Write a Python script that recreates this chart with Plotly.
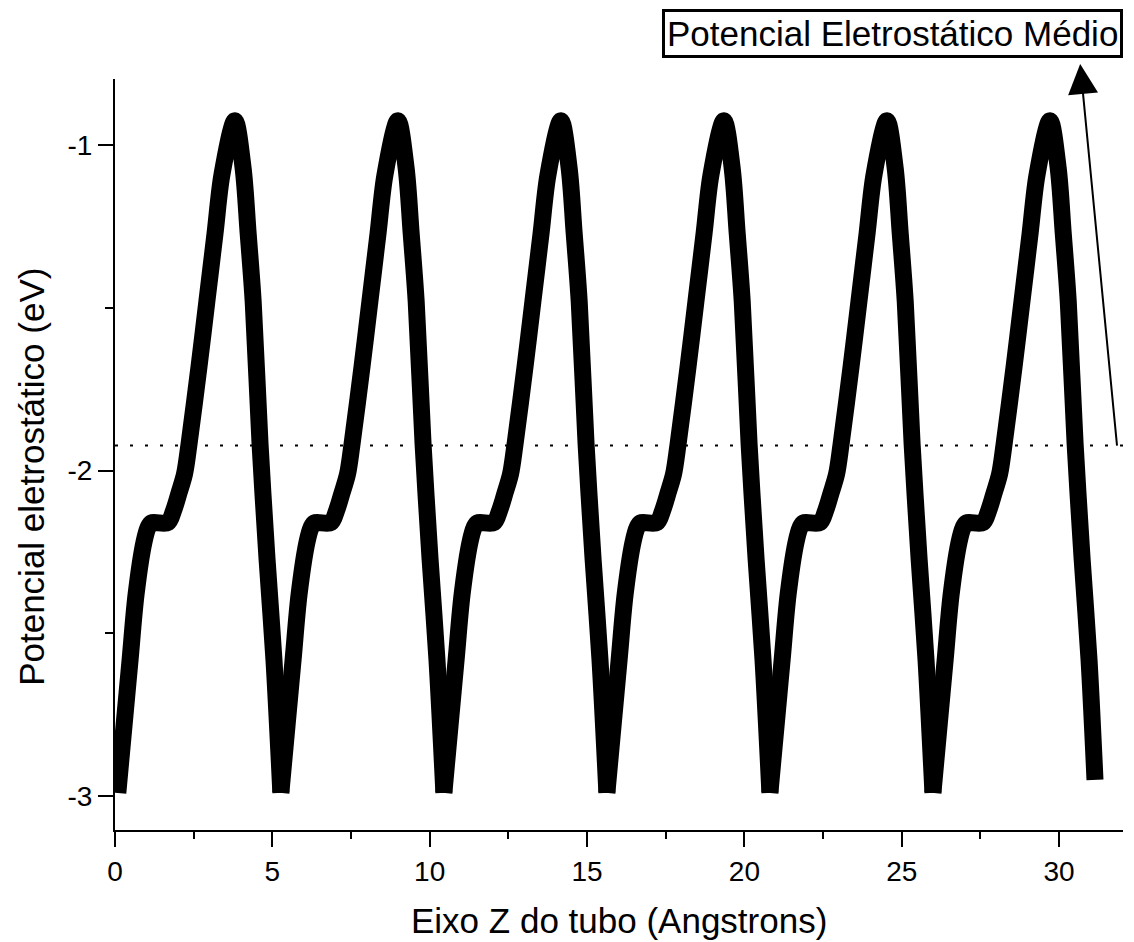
import plotly.graph_objects as go

# ---- data ----
z_angstrom = [
    0.09, 0.29, 0.48, 0.67, 0.92, 1.05, 1.16, 1.68, 1.87, 2.03, 2.21, 2.35, 2.67, 2.92, 3.18, 3.40, 3.81, 4.07, 4.23, 4.39, 4.61, 4.83, 5.05,
    5.27, 5.47, 5.66, 5.85, 6.10, 6.23, 6.34, 6.86, 7.05, 7.21, 7.39, 7.53, 7.85, 8.10, 8.36, 8.58, 8.99, 9.25, 9.41, 9.57, 9.79, 10.01, 10.23,
    10.45, 10.65, 10.84, 11.03, 11.28, 11.41, 11.52, 12.04, 12.23, 12.39, 12.57, 12.71, 13.03, 13.28, 13.54, 13.76, 14.17, 14.43, 14.59, 14.75, 14.97, 15.19, 15.41,
    15.63, 15.83, 16.02, 16.21, 16.46, 16.59, 16.70, 17.22, 17.41, 17.57, 17.75, 17.89, 18.21, 18.46, 18.72, 18.94, 19.35, 19.61, 19.77, 19.93, 20.15, 20.37, 20.59,
    20.81, 21.01, 21.20, 21.39, 21.64, 21.77, 21.88, 22.40, 22.59, 22.75, 22.93, 23.07, 23.39, 23.64, 23.90, 24.12, 24.53, 24.79, 24.95, 25.11, 25.33, 25.55, 25.77,
    25.99, 26.19, 26.38, 26.57, 26.82, 26.95, 27.06, 27.58, 27.77, 27.93, 28.11, 28.25, 28.57, 28.82, 29.08, 29.30, 29.71, 29.97, 30.13, 30.29, 30.51, 30.73, 30.95,
    31.14,
]
potential_ev = [
    -2.99, -2.78, -2.58, -2.38, -2.22, -2.175, -2.16, -2.16, -2.12, -2.07, -2.01, -1.92, -1.68, -1.48, -1.27, -1.09, -0.925, -1.07, -1.27, -1.48, -1.92, -2.27, -2.58,
    -2.99, -2.78, -2.58, -2.38, -2.22, -2.175, -2.16, -2.16, -2.12, -2.07, -2.01, -1.92, -1.68, -1.48, -1.27, -1.09, -0.925, -1.07, -1.27, -1.48, -1.92, -2.27, -2.58,
    -2.99, -2.78, -2.58, -2.38, -2.22, -2.175, -2.16, -2.16, -2.12, -2.07, -2.01, -1.92, -1.68, -1.48, -1.27, -1.09, -0.925, -1.07, -1.27, -1.48, -1.92, -2.27, -2.58,
    -2.99, -2.78, -2.58, -2.38, -2.22, -2.175, -2.16, -2.16, -2.12, -2.07, -2.01, -1.92, -1.68, -1.48, -1.27, -1.09, -0.925, -1.07, -1.27, -1.48, -1.92, -2.27, -2.58,
    -2.99, -2.78, -2.58, -2.38, -2.22, -2.175, -2.16, -2.16, -2.12, -2.07, -2.01, -1.92, -1.68, -1.48, -1.27, -1.09, -0.925, -1.07, -1.27, -1.48, -1.92, -2.27, -2.58,
    -2.99, -2.78, -2.58, -2.38, -2.22, -2.175, -2.16, -2.16, -2.12, -2.07, -2.01, -1.92, -1.68, -1.48, -1.27, -1.09, -0.925, -1.07, -1.27, -1.48, -1.92, -2.27, -2.58,
    -2.95,
]
mean_potential = -1.923
arrow_tail_z = 31.84

x_tickvals = [0, 5, 10, 15, 20, 25, 30]
x_ticktext = ["0", "5", "10", "15", "20", "25", "30"]
y_tickvals = [-1, -2, -3]
y_ticktext = ["-1", "-2", "-3"]

x_title = "Eixo Z do tubo (Angstrons)"
y_title = "Potencial eletrostático (eV)"
box_label = "Potencial Eletrostático Médio"

FONT = "Arial, 'Liberation Sans', sans-serif"

# split the curve at its minima (sharp V bottoms); each min-to-min arch is smoothed on its own
breaks = [0]
for i in range(1, len(potential_ev) - 1):
    a, b, c = potential_ev[i - 1], potential_ev[i], potential_ev[i + 1]
    if b < a and b < c:
        breaks.append(i)
breaks.append(len(potential_ev) - 1)

fig = go.Figure()
for s, e in zip(breaks[:-1], breaks[1:]):
    fig.add_trace(go.Scatter(
        x=z_angstrom[s:e + 1], y=potential_ev[s:e + 1], mode="lines",
        line=dict(color="black", width=17, shape="spline", smoothing=0.9),
        showlegend=False, hoverinfo="skip",
    ))

fig.add_shape(
    type="line", xref="paper", yref="y",
    x0=0, x1=1.009, y0=mean_potential, y1=mean_potential,
    line=dict(color="black", width=2, dash="3px,12px"),
    layer="above",
)

fig.add_annotation(
    x=arrow_tail_z, y=mean_potential, xref="x", yref="y",
    ax=-37, ay=-383, axref="pixel", ayref="pixel",
    text="", showarrow=True, arrowside="start",
    startarrowhead=2, startarrowsize=3, arrowwidth=2, arrowcolor="black",
    startstandoff=0, standoff=0,
)

fig.add_annotation(
    x=0.771, y=1.06, xref="paper", yref="paper",
    xanchor="center", yanchor="middle",
    text=box_label, showarrow=False,
    font=dict(family=FONT, size=35, color="black"),
    bordercolor="black", borderwidth=3, borderpad=2, bgcolor="white",
)

fig.add_annotation(
    x=0.5, y=-0.121, xref="paper", yref="paper",
    xanchor="center", yanchor="middle",
    text=x_title, showarrow=False,
    font=dict(family=FONT, size=35, color="black"),
)
fig.add_annotation(
    x=-0.0835, y=0.47, xref="paper", yref="paper",
    xanchor="center", yanchor="middle", textangle=-90,
    text=y_title, showarrow=False,
    font=dict(family=FONT, size=35, color="black"),
)

fig.update_layout(
    width=1134, height=942,
    margin=dict(l=115, r=11, t=79, b=112),
    paper_bgcolor="white", plot_bgcolor="white",
    font=dict(family=FONT, size=28, color="black"),
    xaxis=dict(
        range=[0, 32.03], showgrid=False, zeroline=False,
        showline=True, linecolor="black", linewidth=2,
        ticks="outside", ticklen=15, tickwidth=2, tickcolor="black",
        tickvals=x_tickvals, ticktext=x_ticktext,
        tickfont=dict(family=FONT, size=28, color="black"),
        minor=dict(dtick=2.5, tick0=0, ticks="outside", ticklen=7, tickwidth=2, tickcolor="black", showgrid=False),
    ),
    yaxis=dict(
        range=[-3.104, -0.797], showgrid=False, zeroline=False,
        showline=True, linecolor="black", linewidth=2,
        ticks="outside", ticklen=15, tickwidth=2, tickcolor="black",
        tickvals=y_tickvals, ticktext=y_ticktext,
        tickfont=dict(family=FONT, size=28, color="black"),
        minor=dict(dtick=0.5, tick0=-3, ticks="outside", ticklen=8, tickwidth=2, tickcolor="black", showgrid=False),
    ),
)

fig.write_html("out.html")
